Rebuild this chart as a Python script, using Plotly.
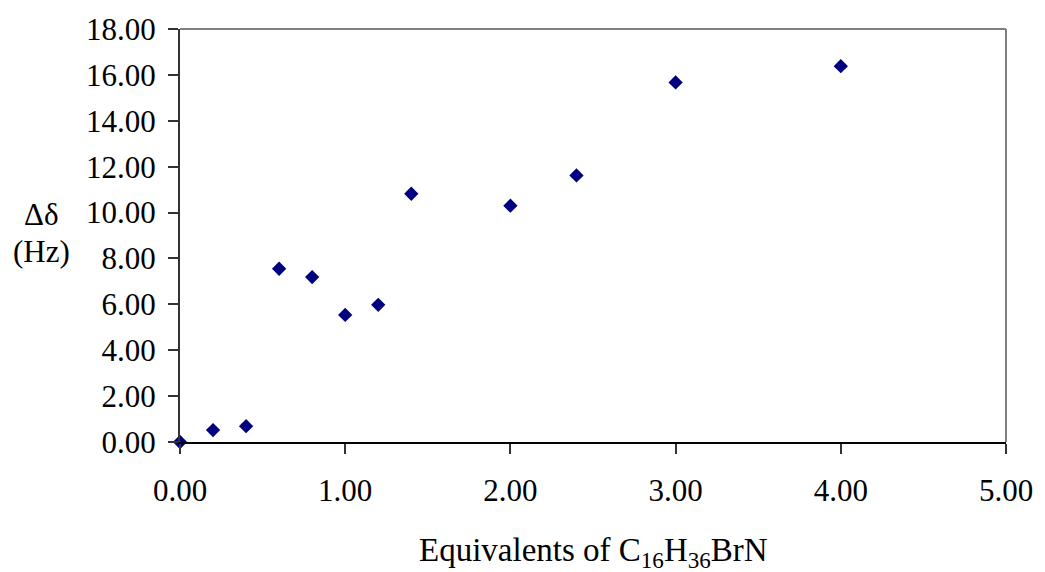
import plotly.graph_objects as go

equivalents = [0.0, 0.2, 0.4, 0.6, 0.8, 1.0, 1.2, 1.4, 2.0, 2.4, 3.0, 4.0]
delta_hz = [0.0, 0.52, 0.69, 7.55, 7.19, 5.54, 5.98, 10.82, 10.30, 11.62, 15.67, 16.38]

x_ticks = [0, 1, 2, 3, 4, 5]
y_ticks = [0, 2, 4, 6, 8, 10, 12, 14, 16, 18]

FONT = "Liberation Serif, Times New Roman, serif"

fig = go.Figure()
fig.add_trace(go.Scatter(
    x=equivalents, y=delta_hz, mode="markers",
    marker=dict(symbol="diamond", size=11, color="#000080"),
    cliponaxis=False, showlegend=False,
))

fig.update_layout(
    width=1045, height=572,
    margin=dict(l=180, r=33, t=26, b=130),
    paper_bgcolor="white", plot_bgcolor="white",
    font=dict(family=FONT, size=31, color="black"),
    xaxis=dict(
        range=[0, 5], tickvals=x_ticks, ticktext=[f"{v:.2f}" for v in x_ticks],
        showgrid=False, zeroline=False, showline=True, linecolor="black", linewidth=1.5,
        ticks="outside", ticklen=10, tickwidth=1.5, tickcolor="#333333",
        ticklabelstandoff=10,
    ),
    yaxis=dict(
        range=[0, 18], tickvals=y_ticks, ticktext=[f"{v:.2f}" for v in y_ticks],
        showgrid=False, zeroline=False, showline=True, linecolor="#333333", linewidth=2,
        ticks="outside", ticklen=10, tickwidth=1.5, tickcolor="#333333",
        ticklabelstandoff=6,
    ),
    shapes=[
        dict(type="line", xref="paper", yref="paper", x0=0, x1=1, y0=1, y1=1,
             line=dict(color="#808080", width=2)),
        dict(type="line", xref="paper", yref="paper", x0=1, x1=1, y0=0, y1=1,
             line=dict(color="#808080", width=2)),
    ],
    annotations=[
        dict(text="Δδ", xref="paper", yref="paper", x=-0.168, y=0.552,
             xanchor="center", yanchor="middle", showarrow=False,
             font=dict(family=FONT, size=31)),
        dict(text="(Hz)", xref="paper", yref="paper", x=-0.168, y=0.462,
             xanchor="center", yanchor="middle", showarrow=False,
             font=dict(family=FONT, size=31)),
        dict(text="Equivalents of C<sub>16</sub>H<sub>36</sub>BrN", xref="paper", yref="paper",
             x=0.5, y=-0.268, xanchor="center", yanchor="middle", showarrow=False,
             font=dict(family=FONT, size=33)),
    ],
)

fig.write_html("out.html")
